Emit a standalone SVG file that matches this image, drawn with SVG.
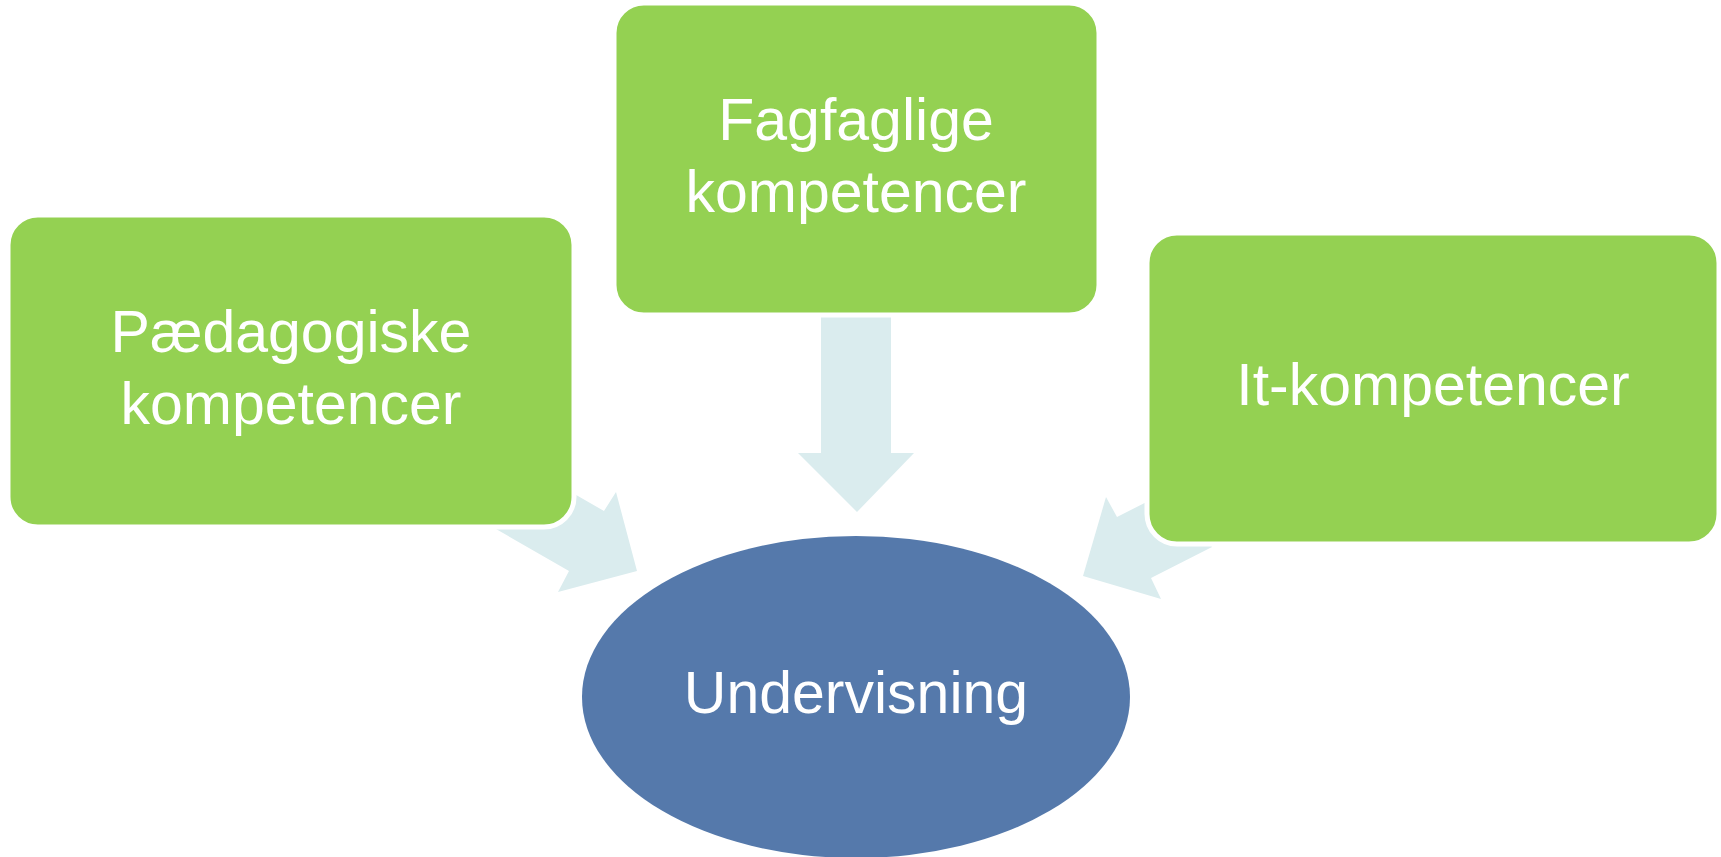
<svg xmlns="http://www.w3.org/2000/svg" width="1721" height="857" viewBox="0 0 1721 857">
<style>
.box{fill:#94D152;stroke:#FFFFFF;stroke-width:5}
.arrow{fill:#DAECEE}
.lbl{font-family:"Liberation Sans",Arial,sans-serif;font-size:59px;fill:#FFFFFF;text-anchor:middle}
</style>
<rect width="1721" height="857" fill="#FFFFFF"/>
<g id="connectors">
<polygon class="arrow" points="821,317 891,317 891,453 914,453 857,512 798,453 821,453"/>
<polygon class="arrow" points="531,469 604,511 616,492 637,571 558,592 569,571 496,529"/>
<polygon class="arrow" points="1180,485 1117,517 1106,497 1083,576 1161,599 1151,578 1212,547"/>
</g>
<g id="node-fagfaglige">
<rect class="box" x="614" y="3" width="485" height="312" rx="30"/>
<text class="lbl" x="856" y="140">Fagfaglige</text>
<text class="lbl" x="856" y="212">kompetencer</text>
</g>
<g id="node-paedagogiske">
<rect class="box" x="8" y="215" width="566" height="312" rx="30"/>
<text class="lbl" x="291" y="352">Pædagogiske</text>
<text class="lbl" x="291" y="424">kompetencer</text>
</g>
<g id="node-it">
<rect class="box" x="1147" y="233" width="572" height="311" rx="30"/>
<text class="lbl" x="1433" y="405">It-kompetencer</text>
</g>
<g id="node-undervisning">
<ellipse cx="856" cy="697" rx="274" ry="161" fill="#5579AB"/>
<text class="lbl" x="856" y="713">Undervisning</text>
</g>
</svg>
